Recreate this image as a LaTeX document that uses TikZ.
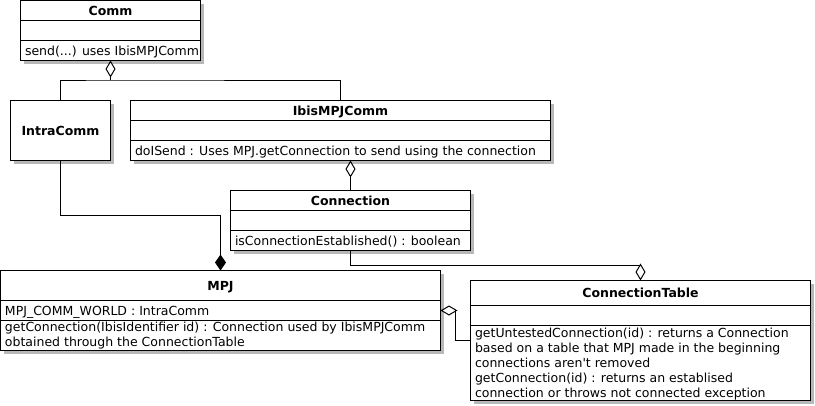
\documentclass[tikz,border=0pt]{standalone}
\usepackage{fontspec}
\setmainfont{DejaVu Sans}[Ligatures=TeXOff]
\usetikzlibrary{arrows.meta,shadows,calc}

\tikzset{
  classbox/.style={draw, fill=white, inner sep=0pt, outer sep=0pt, anchor=north west,
    drop shadow={shadow xshift=3pt, shadow yshift=-3pt, fill=black!28, opacity=1}},
  classname/.style={font=\fontsize{12.5}{15}\bfseries, inner sep=0pt, anchor=base},
  member/.style={inner sep=0pt, anchor=base west, align=left},
  agg/.style={{Diamond[open,fill=white,length=17pt,width=10pt]}-},
  comp/.style={{Diamond[length=16pt,width=11pt]}-}
}

\begin{document}
\begin{tikzpicture}[x=1pt,y=-1pt,line width=1pt,font=\fontsize{12.5}{15}\selectfont]
    \useasboundingbox (0,0) rectangle (815,405);
    % the classes
    \node[classbox,minimum width=180pt,minimum height=60pt] (comm) at (20.5,0.5) {};
    \node[classbox,minimum width=100pt,minimum height=60pt] (intra) at (10.5,100.5) {};
    \node[classbox,minimum width=420pt,minimum height=60pt] (ibis) at (130.5,100.5) {};
    \node[classbox,minimum width=240pt,minimum height=60pt] (conn) at (230.5,190.5) {};
    \node[classbox,minimum width=440pt,minimum height=80pt] (mpj) at (0.5,270.5) {};
    \node[classbox,minimum width=340pt,minimum height=120pt] (table) at (470.5,280.5) {};

    % compartments
    \draw ($(comm.north west)+(0,20)$) -- ($(comm.north east)+(0,20)$);
    \draw ($(comm.north west)+(0,40)$) -- ($(comm.north east)+(0,40)$);
    \draw ($(ibis.north west)+(0,20)$) -- ($(ibis.north east)+(0,20)$);
    \draw ($(ibis.north west)+(0,40)$) -- ($(ibis.north east)+(0,40)$);
    \draw ($(conn.north west)+(0,20)$) -- ($(conn.north east)+(0,20)$);
    \draw ($(conn.north west)+(0,40)$) -- ($(conn.north east)+(0,40)$);
    \draw ($(mpj.north west)+(0,30)$) -- ($(mpj.north east)+(0,30)$);
    \draw ($(mpj.north west)+(0,50)$) -- ($(mpj.north east)+(0,50)$);
    \draw ($(table.north west)+(0,25)$) -- ($(table.north east)+(0,25)$);
    \draw ($(table.north west)+(0,45)$) -- ($(table.north east)+(0,45)$);

    % names and members
    \node[classname] (comm-name) at ($(comm.north)+(0,15)$) {Comm};
    \node[member] (comm-ops) at ($(comm.north west)+(4,55)$) {send(...) uses IbisMPJComm};
    \node[classname] (intra-name) at ($(intra.north)+(0,34.5)$) {IntraComm};
    \node[classname] (ibis-name) at ($(ibis.north)+(0,15)$) {IbisMPJComm};
    \node[member] (ibis-ops) at ($(ibis.north west)+(4,55)$) {doISend : Uses MPJ.getConnection to send using the connection};
    \node[classname] (conn-name) at ($(conn.north)+(0,15)$) {Connection};
    \node[member] (conn-ops) at ($(conn.north west)+(4,55)$) {isConnectionEstablished() : boolean};
    \node[classname] (mpj-name) at ($(mpj.north)+(0,20)$) {MPJ};
    \node[member] (mpj-attr) at ($(mpj.north west)+(4,45)$) {MPJ\_COMM\_WORLD : IntraComm};
    \node[member] (mpj-ops) at ($(mpj.north west)+(4,76)$) {getConnection(IbisIdentifier id) : Connection used by IbisMPJComm\\obtained through the ConnectionTable};
    \node[classname] (table-name) at ($(table.north)+(0,17)$) {ConnectionTable};
    \node[member] (table-ops) at ($(table.north west)+(4,116.5)$) {getUntestedConnection(id) : returns a Connection\\based on a table that MPJ made in the beginning\\connections aren't removed\\getConnection(id) : returns an establised\\connection or throws not connected exception};

    % associations
    \draw[agg] (comm.south) -- (comm.south |- 0,80) coordinate (commjoint);
    \draw (intra.north) |- (commjoint) -| (ibis.north);
    \draw[agg] (ibis.south -| conn.north) -- (conn.north);
    \draw[comp] (mpj.north) -- (mpj.north |- 0,215) -| (intra.south);
    \draw[agg] (table.north) -- (table.north |- 0,265) -| (conn.south);
    \draw[agg] (mpj.east) -- ++(15,0) |- (table.west);
\end{tikzpicture}
\end{document}
